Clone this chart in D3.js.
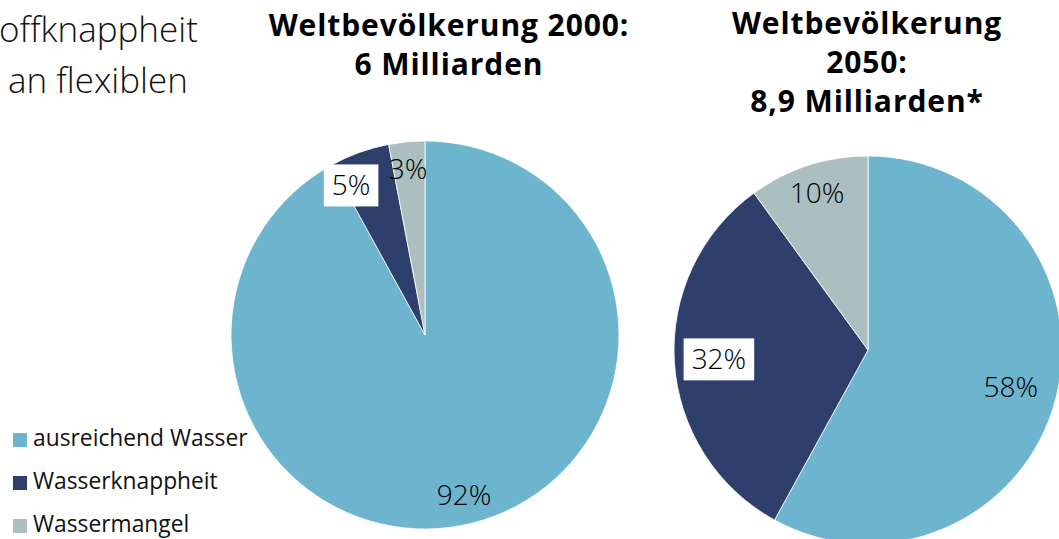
<!DOCTYPE html>
<html>
<head>
<meta charset="utf-8">
<script src="https://cdn.jsdelivr.net/npm/d3@7"></script>
<style>
  html, body { margin: 0; padding: 0; background: #fff; overflow: hidden; }
  svg { display: block; }
  text { font-family: "Open Sans", "Noto Sans", sans-serif; }
</style>
</head>
<body>
<svg id="chart" width="1059" height="539"></svg>
<script>
// ---- data ----
const categories = ["ausreichend Wasser", "Wasserknappheit", "Wassermangel"];
const values2000 = [92, 5, 3];
const values2050 = [58, 32, 10];
const titles2000 = ["Weltbevölkerung 2000:", "6 Milliarden"];
const titles2050 = ["Weltbevölkerung", "2050:", "8,9 Milliarden*"];
const sideText = ["offknappheit", "an flexiblen"];

// ---- style ----
const colors = ["#6db5ce", "#2f3f6c", "#abbec0"];
const svg = d3.select("#chart");

const color = d3.scaleOrdinal().domain(categories).range(colors);

// side text (cut-off paragraph at left)
svg.append("g").selectAll("text").data(sideText).join("text")
  .attr("x", (d, i) => i === 0 ? -1 : 8)
  .attr("y", (d, i) => 42 + i * 51)
  .attr("font-size", 35)
  .attr("font-weight", 300)
  .attr("fill", "#111")
  .text(d => d);

// legend
const legend = svg.append("g").attr("transform", "translate(13,432)");
const li = legend.selectAll("g").data(categories).join("g")
  .attr("transform", (d, i) => `translate(0,${i * 43})`);
li.append("rect").attr("y", 1).attr("width", 14).attr("height", 14).attr("fill", d => color(d));
li.append("text").attr("x", 20).attr("y", 14).attr("font-size", 22.8)
  .attr("font-weight", 400).attr("fill", "#111").text(d => d);

function drawPie(values, titleLines, cx, cy, r, titleX, titleY0, labelR, nudges, boxed) {
  const pie = d3.pie().sort(null).value(d => d.v);
  const arcs = pie(values.map((v, i) => ({ v, c: categories[i] })));
  const arc = d3.arc().innerRadius(0).outerRadius(r);
  const g = svg.append("g").attr("transform", `translate(${cx},${cy})`);
  g.selectAll("path").data(arcs).join("path")
    .attr("d", arc).attr("fill", d => color(d.data.c))
    .attr("stroke", "#ffffff").attr("stroke-width", 0.8);

  const lab = g.selectAll("g.lab").data(arcs).join("g").attr("class", "lab")
    .attr("transform", (d, i) => {
      const a = (d.startAngle + d.endAngle) / 2 + nudges[i] * Math.PI / 180;
      const rr = r * labelR[i];
      return `translate(${Math.sin(a) * rr},${-Math.cos(a) * rr})`;
    });
  lab.each(function (d, i) {
    const s = d3.select(this);
    const rect = boxed[i] ? s.append("rect").attr("fill", "#fff") : null;
    const t = s.append("text").attr("text-anchor", "middle").attr("y", 10)
      .attr("font-size", 28).attr("font-weight", 300).attr("fill", "#000")
      .text(d3.format(".0f")(d.data.v) + "%");
    if (rect) {
      const w = t.node().getComputedTextLength() + 16;
      rect.attr("x", -w / 2).attr("y", -21).attr("width", w).attr("height", 42);
    }
  });

  svg.append("g").selectAll("text").data(titleLines).join("text")
    .attr("x", titleX).attr("y", (d, i) => titleY0 + i * 39)
    .attr("text-anchor", "middle").attr("font-size", 30).attr("font-weight", 700)
    .attr("letter-spacing", 0.9)
    .attr("fill", "#000").text(d => d);
}

drawPie(values2000, titles2000, 425, 335, 194, 449, 36,
  [0.85, 0.86, 0.86], [0.7, -6.5, -0.4], [false, true, false]);
drawPie(values2050, titles2050, 868, 350, 194, 867, 34,
  [0.76, 0.77, 0.85], [0, 0, 0], [false, true, false]);
</script>
</body>
</html>
